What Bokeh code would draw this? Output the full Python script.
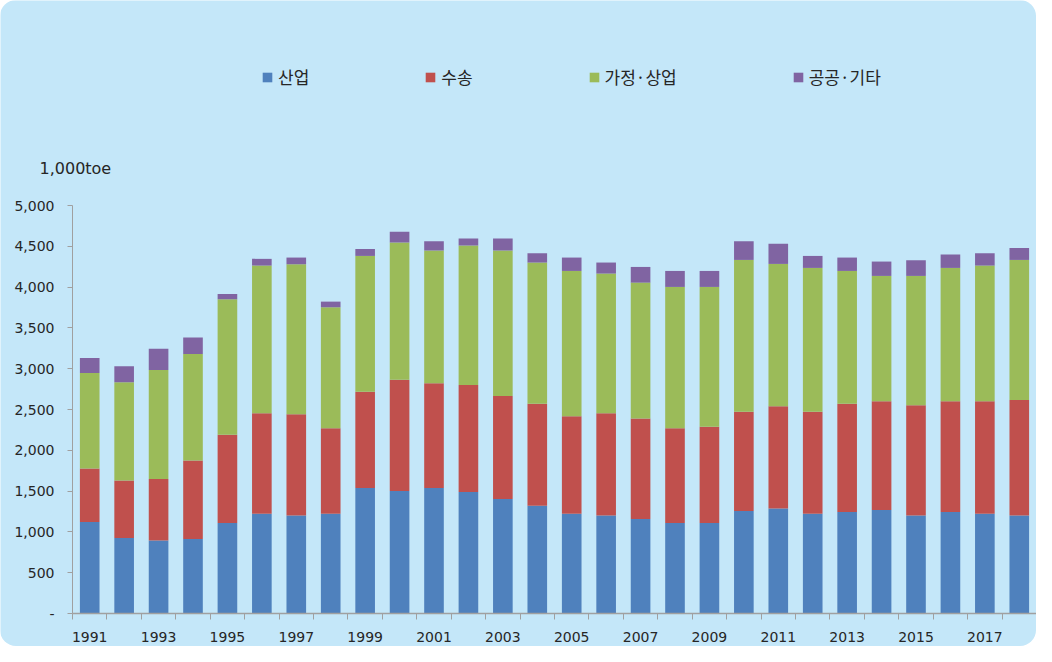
from bokeh.plotting import figure
from bokeh.models import (ColumnDataSource, Range1d, FixedTicker, NumeralTickFormatter,
                          Legend, Label)
from bokeh.embed import file_html
from bokeh.resources import INLINE

# ---- data (1,000 toe) ----
years = list(range(1991, 2019))
industry = [1120, 924, 895, 912, 1108, 1222, 1202, 1222, 1537, 1500,
            1537, 1488, 1402, 1320, 1222, 1202, 1157, 1108, 1108, 1255,
            1288, 1222, 1243, 1267, 1202, 1243, 1222, 1202]
transport = [658, 707, 752, 964, 1083, 1231, 1239, 1047, 1182, 1366,
             1284, 1312, 1263, 1251, 1194, 1251, 1234, 1161, 1181, 1218,
             1251, 1251, 1328, 1333, 1349, 1357, 1378, 1414]
residential = [1170, 1202, 1337, 1304, 1660, 1811, 1839, 1484, 1663, 1680,
               1627, 1709, 1783, 1730, 1782, 1713, 1664, 1733, 1713, 1860,
               1745, 1762, 1627, 1537, 1586, 1635, 1664, 1717]
public = [183, 196, 262, 201, 65, 82, 82, 69, 86, 131,
          114, 86, 147, 114, 164, 135, 192, 196, 196, 229,
          246, 147, 164, 176, 192, 164, 151, 147]
series_names = ["산업", "수송", "가정·상업", "공공·기타"]
series_keys = ["industry", "transport", "residential", "public"]
colors = ["#4F81BD", "#C0504D", "#9BBB59", "#8064A2"]
y_ticks = list(range(0, 5001, 500))
x_label_years = years[::2]

BG = "#C4E7F9"
AXIS = "#A0A0A0"
TXT = "#262626"

# ---- layout (pixels); the frame covers the whole canvas, axes are pinned inside ----
W, H = 1036, 646
AX_LEFT, AX_RIGHT = 72, 1036     # pixel columns of the plot-area edges
AX_BOTTOM, AX_TOP = 613, 205     # pixel rows of value 0 and value 5000
X0, X1 = years[0] - 0.5, years[-1] + 0.5
YMAX = y_ticks[-1]
sx = (AX_RIGHT - AX_LEFT) / (X1 - X0)
sy = (AX_BOTTOM - AX_TOP) / YMAX
x_start = X0 - AX_LEFT / sx
x_end = X1 + (W - AX_RIGHT) / sx
y_start = -(H - AX_BOTTOM) / sy
y_end = YMAX + AX_TOP / sy

source = ColumnDataSource(dict(year=years, industry=industry, transport=transport,
                               residential=residential, public=public))

p = figure(width=W, height=H, output_backend="svg", toolbar_location=None,
           x_range=Range1d(x_start, x_end), y_range=Range1d(y_start, y_end),
           min_border=0)
p.background_fill_color = BG
p.border_fill_color = BG
p.outline_line_color = None
p.xgrid.grid_line_color = None
p.ygrid.grid_line_color = None
p.styles = {"border-radius": "16px", "overflow": "hidden"}

renderers = p.vbar_stack(series_keys, x="year", width=0.57, color=colors,
                         line_color=None, source=source)

# y axis
ya = p.yaxis[0]
ya.fixed_location = X0
ya.bounds = (0, YMAX)
ya.ticker = FixedTicker(ticks=y_ticks)
ya.formatter = NumeralTickFormatter(format="0,0")
ya.major_label_overrides = {0: "-"}
ya.axis_line_color = AXIS
ya.major_tick_line_color = AXIS
ya.major_tick_in = 0
ya.major_tick_out = 5
ya.minor_tick_line_color = None
ya.major_label_standoff = 13
ya.major_label_text_font = "DejaVu Sans"
ya.major_label_text_font_size = "14px"
ya.major_label_text_color = TXT

# x axis
xa = p.xaxis[0]
xa.fixed_location = 0
xa.bounds = (X0, X1)
xa.ticker = FixedTicker(ticks=x_label_years,
                        minor_ticks=[y - 0.5 for y in years] + [years[-1] + 0.5])
xa.major_label_overrides = {y: str(y) for y in x_label_years}
xa.axis_line_color = AXIS
xa.axis_line_width = 1.5
xa.major_tick_line_color = None
xa.minor_tick_line_color = AXIS
xa.minor_tick_in = 0
xa.minor_tick_out = 6
xa.major_label_standoff = 12
xa.major_label_text_font = "DejaVu Sans"
xa.major_label_text_font_size = "14px"
xa.major_label_text_color = TXT

legend = Legend(items=[(n, [r]) for n, r in zip(series_names, renderers)],
                orientation="horizontal", location=(261, 557),
                background_fill_alpha=0, border_line_color=None,
                padding=0, margin=0, spacing=115,
                glyph_width=12, glyph_height=12, label_standoff=5,
                label_text_font="Noto Sans CJK KR", label_text_font_size="17px",
                label_text_color=TXT)
p.add_layout(legend, "center")

unit = Label(x=X0, y=YMAX, x_offset=-33, y_offset=37, text="1,000toe",
             text_font="DejaVu Sans", text_font_size="16px", text_color=TXT,
             text_baseline="alphabetic")
p.add_layout(unit)

open("out.html", "w").write(file_html(p, INLINE))
